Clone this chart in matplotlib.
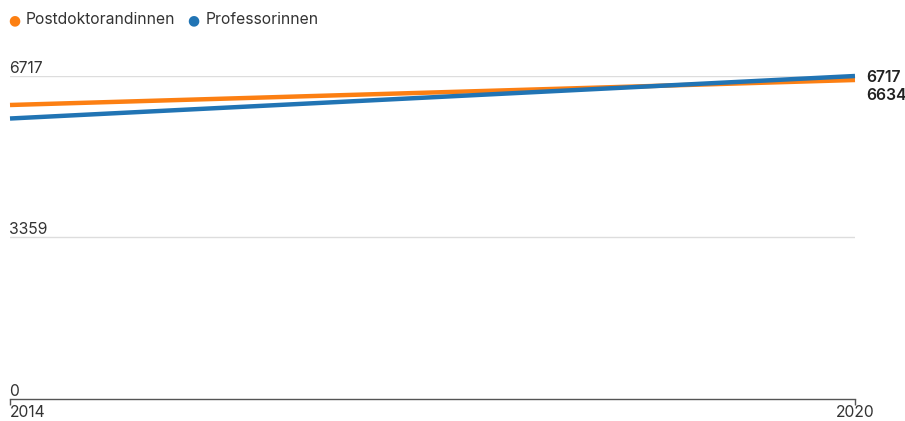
import matplotlib.pyplot as plt

plt.rcParams['font.family'] = ['Inter', 'DejaVu Sans']

jahre = [2014, 2020]
postdoktorandinnen = [6114, 6634]
professorinnen = [5833, 6717]
y_ticks = [0, 3359, 6717]

orange = "#fc7f12"
blau = "#2174b4"
text_farbe = "#333333"

W, H = 905, 421
fig = plt.figure(figsize=(W / 100, H / 100), dpi=100)
ax = fig.add_axes([10 / W, (H - 399) / H, (855 - 10) / W, (399 - 76) / H])

ax.plot(jahre, postdoktorandinnen, color=orange, lw=3.2, solid_capstyle='butt',
        zorder=3, clip_on=False)
ax.plot(jahre, professorinnen, color=blau, lw=3.2, solid_capstyle='butt',
        zorder=4, clip_on=False)

ax.set_xlim(jahre[0], jahre[-1])
ax.set_ylim(0, y_ticks[-1])

# gitterlinien + beschriftung oberhalb
for t in y_ticks[1:]:
    ax.axhline(t, color="#dddddd", lw=1, zorder=1)
for t in y_ticks:
    ax.annotate(str(t), (jahre[0], t), xytext=(-1, 0), textcoords='offset pixels',
                ha='left', va='bottom', fontsize=11.3, color=text_farbe)

for s in ['top', 'right', 'left']:
    ax.spines[s].set_visible(False)
ax.spines['bottom'].set_color("#555555")
ax.spines['bottom'].set_linewidth(1)
ax.set_yticks([])
ax.set_xticks(jahre)
ax.set_xticklabels([str(j) for j in jahre], fontsize=11.3, color=text_farbe)
ax.tick_params(axis='x', length=4, width=1, color="#555555", pad=0.5)
labels = ax.get_xticklabels()
labels[0].set_ha('left')

# endwerte
ax.annotate(str(professorinnen[-1]), (jahre[-1], professorinnen[-1]),
            xytext=(11, -1), textcoords='offset pixels', va='center',
            fontsize=11.3, fontweight='semibold', color="#222222", annotation_clip=False)
ax.annotate(str(postdoktorandinnen[-1]), (jahre[-1], professorinnen[-1]),
            xytext=(11, -20), textcoords='offset pixels', va='center',
            fontsize=11.3, fontweight='semibold', color="#222222", annotation_clip=False)

# legende
fig.text(8 / W, 1 - 20 / H, "●", color=orange, fontsize=10, va='center', ha='left',
         family='DejaVu Sans')
fig.text(26 / W, 1 - 20 / H, "Postdoktorandinnen", color=text_farbe, fontsize=11.3,
         va='center', ha='left')
fig.text(187 / W, 1 - 20 / H, "●", color=blau, fontsize=10, va='center', ha='left',
         family='DejaVu Sans')
fig.text(206 / W, 1 - 20 / H, "Professorinnen", color=text_farbe, fontsize=11.3,
         va='center', ha='left')

fig.savefig("out.png", dpi=100)
